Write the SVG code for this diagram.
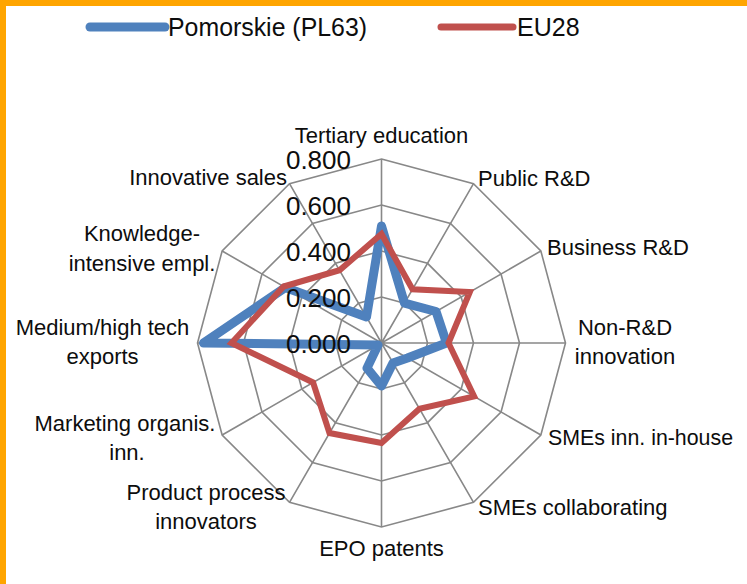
<svg xmlns="http://www.w3.org/2000/svg" width="747" height="584" viewBox="0 0 747 584">
<style>
.lbl{font-family:"Liberation Sans",Arial,sans-serif;font-size:22px;fill:#0d0d0d}
.val{font-family:"Liberation Sans",Arial,sans-serif;font-size:26px;fill:#0d0d0d;text-anchor:end}
.leg{font-family:"Liberation Sans",Arial,sans-serif;font-size:25px;fill:#0d0d0d}
.grid{fill:none;stroke:#888888;stroke-width:1.6}
.blue{fill:none;stroke:#4F81BD;stroke-width:9;stroke-linejoin:round}
.red{fill:none;stroke:#C0504D;stroke-width:6;stroke-linejoin:miter}
.mid{text-anchor:middle}
.end{text-anchor:end}
</style>
<rect x="0" y="0" width="747" height="584" fill="#ffffff"/>
<rect x="0" y="0" width="747" height="6" fill="#FFA500"/>
<rect x="0" y="0" width="6" height="584" fill="#FFA500"/>

<g id="legend">
  <line x1="90" y1="27" x2="165" y2="27" stroke="#4F81BD" stroke-width="9" stroke-linecap="round"/>
  <text class="leg" x="168" y="36" textLength="199" lengthAdjust="spacingAndGlyphs">Pomorskie (PL63)</text>
  <line x1="441" y1="27" x2="513" y2="27" stroke="#C0504D" stroke-width="7" stroke-linecap="round"/>
  <text class="leg" x="517" y="36">EU28</text>
</g>

<g id="grid" transform="translate(381.5,343)">
  <polygon class="grid" points="0,-184 92,-159.35 159.35,-92 184,0 159.35,92 92,159.35 0,184 -92,159.35 -159.35,92 -184,0 -159.35,-92 -92,-159.35"/>
  <polygon class="grid" points="0,-138 69,-119.51 119.51,-69 138,0 119.51,69 69,119.51 0,138 -69,119.51 -119.51,69 -138,0 -119.51,-69 -69,-119.51"/>
  <polygon class="grid" points="0,-92 46,-79.67 79.67,-46 92,0 79.67,46 46,79.67 0,92 -46,79.67 -79.67,46 -92,0 -79.67,-46 -46,-79.67"/>
  <polygon class="grid" points="0,-46 23,-39.84 39.84,-23 46,0 39.84,23 23,39.84 0,46 -23,39.84 -39.84,23 -46,0 -39.84,-23 -23,-39.84"/>
  <path class="grid" d="M0,0L0,-184M0,0L92,-159.35M0,0L159.35,-92M0,0L184,0M0,0L159.35,92M0,0L92,159.35M0,0L0,184M0,0L-92,159.35M0,0L-159.35,92M0,0L-184,0M0,0L-159.35,-92M0,0L-92,-159.35"/>
</g>

<g id="connectors" transform="translate(381.5,343)">
  <polygon id="series-pomorskie" class="blue" points="0,-117 23,-39.84 54.56,-31.5 65,0 25.98,15 11.5,19.92 0,43 -14.5,25.11 -3.46,2 -178,0 -96.13,-55.5 -15,-25.98"/>
  <polygon id="series-eu28" class="red" points="0,-109 31,-53.69 88.33,-51 67,0 92.66,53.5 38,65.82 0,100 -52,90.07 -68.42,39.5 -150,0 -97.86,-56.5 -42,-72.75"/>
</g>

<g id="axis-values">
  <text class="val" x="351" y="169">0.800</text>
  <text class="val" x="351" y="215">0.600</text>
  <text class="val" x="351" y="261">0.400</text>
  <text class="val" x="351" y="307">0.200</text>
  <text class="val" x="351" y="353">0.000</text>
</g>

<g id="node-tertiary"><text class="lbl mid" x="381.5" y="143">Tertiary education</text></g>
<g id="node-public-rd"><text class="lbl" x="478" y="186">Public R&amp;D</text></g>
<g id="node-business-rd"><text class="lbl" x="547" y="255">Business R&amp;D</text></g>
<g id="node-non-rd"><text class="lbl mid" x="625" y="335">Non-R&amp;D</text><text class="lbl mid" x="625" y="364">innovation</text></g>
<g id="node-smes-inhouse"><text class="lbl" x="548" y="445" textLength="185" lengthAdjust="spacingAndGlyphs">SMEs inn. in-house</text></g>
<g id="node-smes-collab"><text class="lbl" x="478" y="515">SMEs collaborating</text></g>
<g id="node-epo"><text class="lbl mid" x="381.5" y="556">EPO patents</text></g>
<g id="node-product"><text class="lbl mid" x="206" y="500">Product process</text><text class="lbl mid" x="206" y="529">innovators</text></g>
<g id="node-marketing"><text class="lbl mid" x="125" y="431">Marketing organis.</text><text class="lbl mid" x="127" y="460">inn.</text></g>
<g id="node-medhigh"><text class="lbl mid" x="102.5" y="335">Medium/high tech</text><text class="lbl mid" x="102.5" y="364">exports</text></g>
<g id="node-knowledge"><text class="lbl mid" x="142" y="241">Knowledge-</text><text class="lbl mid" x="142" y="271">intensive empl.</text></g>
<g id="node-innovative-sales"><text class="lbl end" x="287" y="185">Innovative sales</text></g>
</svg>
